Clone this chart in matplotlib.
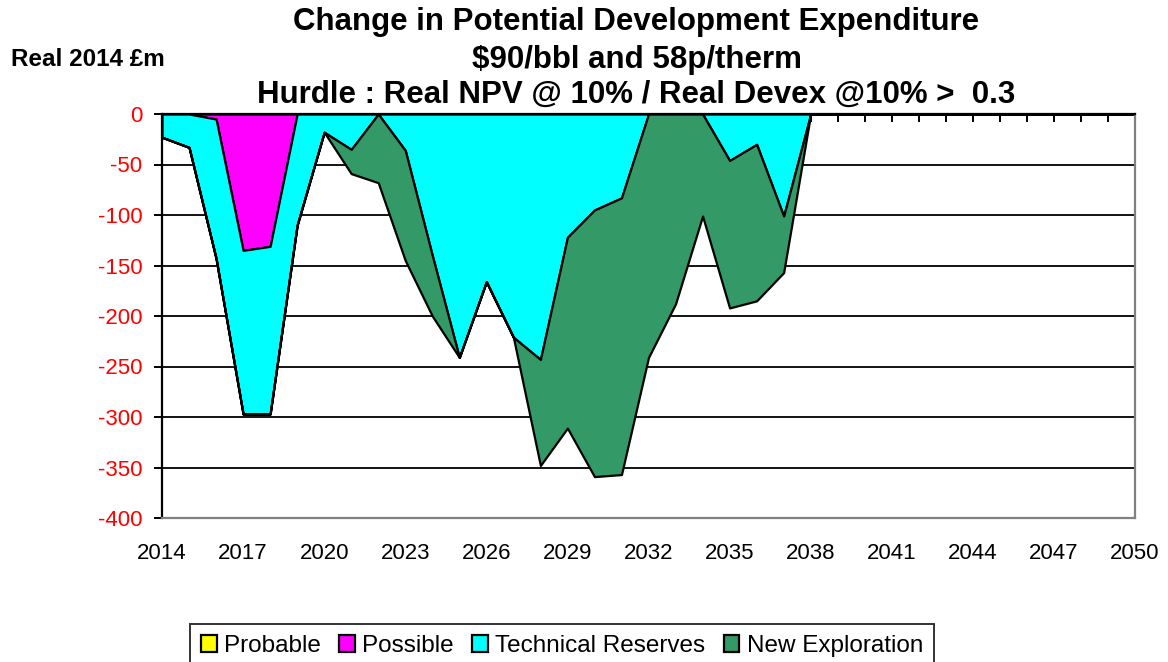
import numpy as np
import matplotlib.pyplot as plt
from matplotlib.ticker import MultipleLocator

plt.rcParams['font.family'] = ['Liberation Sans', 'DejaVu Sans']
plt.rcParams['axes.unicode_minus'] = False

years = np.arange(2014, 2051)

# values, 2014..2038, zeros afterwards
probable = [0] * 25
possible = [0, 0, -5, -135, -131, 0, 0, 0, 0, 0, 0, 0, 0, 0, 0, 0, 0, 0, 0, 0, 0, 0, 0, 0, 0]
technical = [-23, -33, -138, -162, -166, -110, -18, -35, 0, -36, -140, -241, -166,
             -221, -243, -122, -95, -83, 0, 0, 0, -46, -30, -101, 0]
new_expl = [0, 0, 0, 0, 0, 0, 0, -24, -68, -109, -60, 0, 0,
            0, -105, -189, -264, -274, -241, -188, -101, -146, -155, -56, 0]
xticks = np.arange(2014, 2051, 3)

pad = [0] * (len(years) - 25)
series = [probable + pad, possible + pad, technical + pad, new_expl + pad]
labels = ['Probable', 'Possible', 'Technical Reserves', 'New Exploration']
colors = ['#FFFF00', '#FF00FF', '#00FFFF', '#339966']

fig = plt.figure(figsize=(11.68, 6.62), dpi=100)
ax = fig.add_axes([162 / 1168, 1 - 518 / 662, (1135 - 162) / 1168, (518 - 114) / 662])

ax.stackplot(years, *series, labels=labels, colors=colors,
             edgecolor='black', linewidth=1.6, zorder=2)

ax.set_xlim(2014, 2050)
ax.set_ylim(-400, 0)
ax.yaxis.set_major_locator(MultipleLocator(50))
ax.set_xticks(xticks)
ax.xaxis.set_minor_locator(MultipleLocator(1))
ax.grid(axis='y', color='black', linewidth=1.3, zorder=0)
ax.set_axisbelow(True)

for s in ['right', 'bottom']:
    ax.spines[s].set_color('#808080')
    ax.spines[s].set_linewidth(1.6)
for s in ['left', 'top']:
    ax.spines[s].set_color('black')
    ax.spines[s].set_linewidth(1.6)

ax.tick_params(axis='x', which='both', bottom=False, top=True, labelbottom=True,
               labeltop=False, direction='in', length=6, width=1.4, pad=18,
               labelsize=16)
ax.tick_params(axis='y', direction='out', length=6, width=1.4, labelsize=16,
               labelcolor='red', pad=8)

title_lines = ['Change in Potential Development Expenditure',
               '$90/bbl and 58p/therm',
               'Hurdle : Real NPV @ 10% / Real Devex @10% >  0.3']
for txt, yy in zip(title_lines, [0.967, 0.909, 0.856]):
    fig.text(0.545, yy, txt, ha='center', va='center', fontsize=22.5, fontweight='bold')
fig.text(11 / 1168, 1 - 59 / 662, 'Real 2014 £m', ha='left', va='center',
         fontsize=17.5, fontweight='bold')

leg = fig.legend(loc='upper center', bbox_to_anchor=(562 / 1168, 1 - 624 / 662), ncol=4,
                 frameon=True, fancybox=False, edgecolor='black', fontsize=17.5,
                 handlelength=0.65, handleheight=0.65, handletextpad=0.3,
                 columnspacing=0.75, borderpad=0.45, borderaxespad=0)
leg.get_frame().set_linewidth(1.4)

fig.savefig('out.png', dpi=100)
